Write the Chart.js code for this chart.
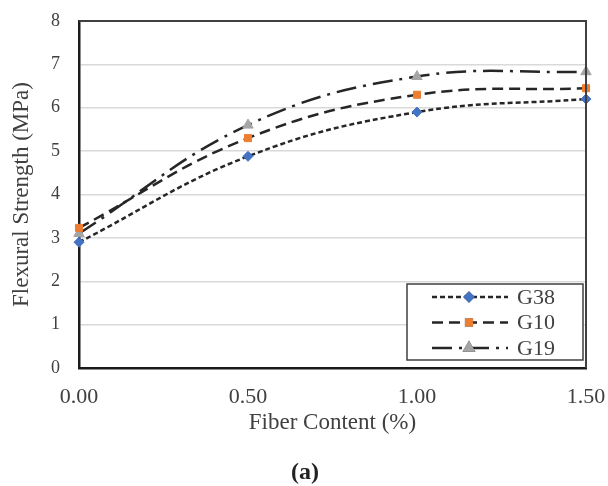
<!DOCTYPE html>
<html>
<head>
<meta charset="utf-8">
<script src="https://cdn.jsdelivr.net/npm/chart.js@4"></script>
<style>
  html, body { margin: 0; padding: 0; background: #fff; }
  #wrap { width: 608px; height: 486px; position: relative; }
</style>
</head>
<body>
<div id="wrap"><canvas id="flex_canvas" width="608" height="486"></canvas></div>
<script>
// fiber content levels (%)
var fiberLabels = ['0.00', '0.50', '1.00', '1.50'];

// flexural strength (MPa) per mix
var g38 = [2.9, 4.88, 5.9, 6.2];
var g10 = [3.23, 5.3, 6.3, 6.45];
var g19 = [3.1, 5.6, 6.72, 6.83];

var yTicks = [0, 1, 2, 3, 4, 5, 6, 7, 8];

var textColor = '#404040';
var serif = "'Liberation Serif', 'Times New Roman', serif";

function makeSeries(name, data, dash, style, color) {
    return {
        label: name,
        data: data,
        borderColor: '#262626',
        borderWidth: 2.5,
        borderDash: dash,
        tension: 0.4,
        pointStyle: style,
        pointRadius: style == 'triangle' ? 6 : 5,
        pointBackgroundColor: color,
        pointBorderColor: color,
        pointBorderWidth: 1,
        fill: false
    };
}

// plot frame, boxed legend in the lower right and the "(a)" caption
var framePlugin = {
    id: 'frameLegend',
    afterDraw: function(chart) {
        var ctx = chart.ctx;
        var a = chart.chartArea;
        ctx.save();

        // top / right edges of the plot area
        ctx.strokeStyle = '#404040';
        ctx.lineWidth = 2;
        ctx.beginPath();
        ctx.moveTo(a.left, a.top);
        ctx.lineTo(a.right, a.top);
        ctx.lineTo(a.right, a.bottom);
        ctx.stroke();

        // legend box
        var bw = 176, bh = 76;
        var bx = a.right - 3 - bw, by = a.bottom - 8 - bh;
        ctx.fillStyle = '#fff';
        ctx.fillRect(bx, by, bw, bh);
        ctx.strokeStyle = '#404040';
        ctx.lineWidth = 1.5;
        ctx.strokeRect(bx, by, bw, bh);

        chart.data.datasets.forEach(function(ds, i) {
            var yy = by + 13 + i * 25.5;
            ctx.strokeStyle = ds.borderColor;
            ctx.lineWidth = ds.borderWidth;
            ctx.setLineDash(ds.borderDash);
            ctx.beginPath();
            ctx.moveTo(bx + 25, yy);
            ctx.lineTo(bx + 101, yy);
            ctx.stroke();
            ctx.setLineDash([]);
            Chart.helpers.drawPoint(ctx, {
                pointStyle: ds.pointStyle,
                radius: ds.pointRadius - 1,
                borderWidth: 1,
                rotation: 0
            }, bx + 62, yy);
            ctx.fillStyle = ds.pointBackgroundColor;
            ctx.strokeStyle = ds.pointBorderColor;
            ctx.fill();
            ctx.stroke();

            ctx.fillStyle = textColor;
            ctx.font = '22px ' + serif;
            ctx.textBaseline = 'middle';
            ctx.textAlign = 'left';
            ctx.fillText(ds.label, bx + 110, yy + 1);
        });

        ctx.fillStyle = '#222';
        ctx.font = 'bold 24px ' + serif;
        ctx.textAlign = 'center';
        ctx.textBaseline = 'middle';
        ctx.fillText('(a)', 305, 473);
        ctx.restore();
    }
};

new Chart(document.getElementById('flex_canvas'), {
    type: 'line',
    data: {
        labels: fiberLabels,
        datasets: [
            makeSeries('G38', g38, [5, 3], 'rectRot', '#4472C4'),
            makeSeries('G10', g10, [11, 6], 'rect', '#ED7D31'),
            makeSeries('G19', g19, [20, 7, 3, 7], 'triangle', '#A5A5A5')
        ]
    },
    options: {
        responsive: false,
        animation: false,
        layout: { padding: { top: 21, right: 22, left: 8, bottom: 49 } },
        plugins: {
            legend: { display: false },
            tooltip: { enabled: false }
        },
        scales: {
            x: {
                offset: false,
                grid: { display: false, drawTicks: false },
                border: { display: true, color: '#1a1a1a', width: 2.5 },
                ticks: {
                    color: textColor,
                    font: { family: serif, size: 22 },
                    padding: 16,
                    maxRotation: 0
                },
                title: {
                    display: true,
                    text: 'Fiber Content (%)',
                    color: textColor,
                    font: { family: serif, size: 23 },
                    padding: 0
                },
                afterFit: function(s) {
                    s.height = 69;
                    s.paddingLeft = 0;
                    s.paddingRight = 0;
                }
            },
            y: {
                min: 0,
                max: 8,
                afterBuildTicks: function(s) {
                    s.ticks = yTicks.map(function(v) { return { value: v }; });
                },
                grid: { color: '#d9d9d9', lineWidth: 1.5, drawTicks: false },
                border: { display: true, color: '#1a1a1a', width: 2.5 },
                ticks: {
                    color: textColor,
                    font: { family: serif, size: 18 },
                    padding: 19
                },
                title: {
                    display: true,
                    text: 'Flexural Strength (MPa)',
                    color: textColor,
                    font: { family: serif, size: 23 },
                    padding: 0
                },
                afterFit: function(s) {
                    s.width = 71;
                    s.paddingTop = 0;
                    s.paddingBottom = 0;
                }
            }
        }
    },
    plugins: [framePlugin]
});
</script>
</body>
</html>
